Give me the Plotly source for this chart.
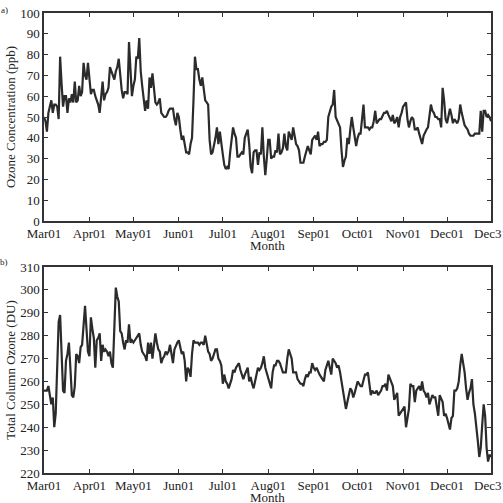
import plotly.graph_objects as go
import pandas as pd

# Daily values, 1 Mar - 31 Dec
surface_ozone_ppb = [
    50, 48, 43, 52, 55, 58, 52, 56, 56, 55, 49, 79, 66, 55, 60, 60, 52, 59, 57, 61,
    57, 67, 57, 58, 65, 60, 62, 76, 70, 68, 76, 67, 61, 63, 63, 60, 58, 56, 52, 58,
    67, 58, 61, 62, 64, 74, 72, 70, 68, 72, 74, 78, 68, 63, 59, 62, 62, 61, 86, 71,
    60, 65, 68, 79, 78, 88, 72, 65, 60, 53, 58, 54, 69, 64, 71, 65, 57, 56, 57, 59,
    52, 51, 50, 50, 51, 53, 54, 54, 54, 49, 46, 52, 50, 44, 39, 41, 36, 33, 33, 32,
    37, 40, 58, 79, 73, 73, 68, 65, 69, 62, 58, 57, 56, 39, 32, 33, 36, 40, 45, 37,
    43, 36, 32, 27, 25, 26, 25, 33, 39, 45, 42, 40, 31, 31, 32, 33, 32, 40, 42, 44,
    37, 26, 23, 33, 34, 34, 27, 33, 32, 45, 31, 22, 30, 39, 39, 30, 31, 31, 34, 33,
    42, 32, 33, 35, 42, 36, 34, 43, 41, 39, 45, 41, 37, 36, 34, 28, 28, 28, 31, 33,
    36, 34, 32, 39, 40, 41, 39, 43, 36, 37, 37, 38, 38, 39, 50, 53, 55, 56, 63, 50,
    48, 47, 45, 34, 26, 29, 31, 40, 37, 44, 50, 45, 41, 36, 40, 42, 42, 49, 56, 45,
    45, 45, 44, 45, 45, 48, 53, 47, 48, 49, 49, 51, 52, 52, 53, 51, 49, 48, 51, 47,
    48, 50, 45, 50, 52, 55, 56, 57, 49, 45, 48, 50, 49, 44, 44, 45, 42, 40, 37, 41,
    43, 44, 45, 50, 56, 53, 52, 50, 50, 49, 49, 45, 64, 58, 49, 47, 50, 54, 51, 47,
    49, 48, 47, 49, 56, 52, 49, 46, 45, 44, 42, 41, 41, 41, 42, 42, 42, 42, 53, 43,
    53, 53, 50, 51, 50, 48,
]

total_column_ozone_du = [
    256, 256, 256, 258, 253, 250, 253, 240, 246, 270, 286, 289, 267, 256, 255, 269, 272, 277, 266, 254,
    253, 258, 272, 271, 268, 275, 276, 287, 293, 283, 273, 271, 288, 283, 279, 266, 278, 279, 281, 269,
    276, 273, 274, 273, 271, 273, 268, 266, 286, 301, 297, 295, 282, 281, 277, 274, 278, 277, 285, 277,
    278, 277, 278, 279, 280, 281, 276, 273, 272, 271, 269, 277, 272, 277, 270, 276, 281, 277, 274, 273,
    268, 270, 271, 273, 272, 273, 276, 272, 268, 274, 276, 277, 278, 274, 272, 273, 269, 260, 266, 265,
    262, 272, 278, 277, 277, 277, 276, 277, 277, 276, 280, 276, 273, 272, 269, 270, 272, 274, 274, 270,
    269, 267, 259, 263, 260, 259, 257, 259, 261, 265, 264, 266, 267, 268, 265, 263, 261, 263, 265, 266,
    260, 262, 259, 257, 260, 263, 266, 265, 266, 268, 271, 266, 264, 262, 259, 257, 264, 267, 267, 269,
    269, 268, 266, 264, 264, 264, 270, 274, 272, 270, 264, 264, 264, 261, 260, 259, 259, 258, 261, 263,
    262, 264, 264, 268, 266, 265, 266, 264, 263, 262, 261, 260, 265, 267, 269, 266, 263, 270, 269, 268,
    266, 267, 264, 260, 257, 253, 248, 251, 254, 257, 256, 253, 255, 257, 260, 259, 258, 258, 261, 263,
    263, 264, 259, 254, 256, 255, 255, 256, 254, 255, 256, 258, 258, 259, 256, 263, 261, 260, 258, 252,
    254, 255, 245, 246, 247, 248, 249, 240, 244, 248, 259, 258, 258, 251, 256, 257, 258, 256, 260, 256,
    255, 253, 255, 250, 252, 254, 253, 253, 249, 245, 254, 252, 251, 245, 246, 244, 242, 239, 244, 245,
    256, 256, 257, 260, 267, 272, 268, 264, 257, 252, 255, 257, 261, 250, 246, 241, 234, 227, 231, 241,
    250, 245, 231, 225, 228, 227,
]

dates = pd.date_range("2001-03-01", "2001-12-31", freq="D")
tick_dates = ["2001-03-01", "2001-04-01", "2001-05-01", "2001-06-01", "2001-07-01",
              "2001-08-01", "2001-09-01", "2001-10-01", "2001-11-01", "2001-12-01", "2001-12-31"]
tick_labels = ["Mar01", "Apr01", "May01", "Jun01", "Jul01", "Aug01", "Sep01",
               "Oct01", "Nov01", "Dec01", "Dec31"]

FONT = "Liberation Serif, Times New Roman, serif"
LINE = "#2b2b2b"
TXT = "#222"
FS = 13

fig = go.Figure()
fig.add_trace(go.Scatter(x=dates, y=surface_ozone_ppb, mode="lines",
                         line=dict(color=LINE, width=2.2), xaxis="x", yaxis="y",
                         showlegend=False))
fig.add_trace(go.Scatter(x=dates, y=total_column_ozone_du, mode="lines",
                         line=dict(color=LINE, width=2.2), xaxis="x2", yaxis="y2",
                         showlegend=False))

xcommon = dict(range=[dates[0], dates[-1]], tickvals=tick_dates, ticktext=tick_labels,
               ticks="inside", ticklen=4, tickcolor="#333", showline=True, mirror="allticks",
               linecolor="#333", linewidth=1.5, showgrid=False, zeroline=False,
               automargin=False, ticklabeloverflow="allow",
               tickfont=dict(family=FONT, size=FS, color=TXT))
ycommon = dict(ticks="inside", ticklen=4, tickcolor="#333", showline=True, mirror="allticks",
               linecolor="#333", linewidth=1.5, showgrid=False, zeroline=False,
               automargin=False, tickfont=dict(family=FONT, size=FS, color=TXT))

fig.update_layout(
    width=503, height=503,
    margin=dict(l=44, r=12, t=13, b=30),
    paper_bgcolor="white", plot_bgcolor="white",
    xaxis=dict(xcommon, anchor="y", domain=[0, 1]),
    xaxis2=dict(xcommon, anchor="y2", domain=[0, 1]),
    yaxis=dict(ycommon, anchor="x", domain=[0.5478, 1], range=[0, 100], dtick=10,
               title=dict(text="Ozone Concentration (ppb)",
                          font=dict(family=FONT, size=FS, color=TXT), standoff=2)),
    yaxis2=dict(ycommon, anchor="x2", domain=[0, 0.4478], range=[220, 310], dtick=10,
                title=dict(text="Total Column Ozone (DU)",
                           font=dict(family=FONT, size=FS, color=TXT), standoff=2)),
)
fig.add_annotation(text="Month", xref="paper", yref="paper", x=0.5, y=0.4955, xanchor="center",
                   yanchor="middle", showarrow=False, font=dict(family=FONT, size=FS, color=TXT))
fig.add_annotation(text="Month", xref="paper", yref="paper", x=0.5, y=-0.0522, xanchor="center",
                   yanchor="middle", showarrow=False, font=dict(family=FONT, size=FS, color=TXT))
fig.add_annotation(text="a)", xref="paper", yref="paper", x=-0.076, y=1.0065, xanchor="right",
                   yanchor="middle", showarrow=False, font=dict(family=FONT, size=9, color=TXT))
fig.add_annotation(text="b)", xref="paper", yref="paper", x=-0.076, y=0.4587, xanchor="right",
                   yanchor="middle", showarrow=False, font=dict(family=FONT, size=9, color=TXT))

fig.write_html("out.html")
